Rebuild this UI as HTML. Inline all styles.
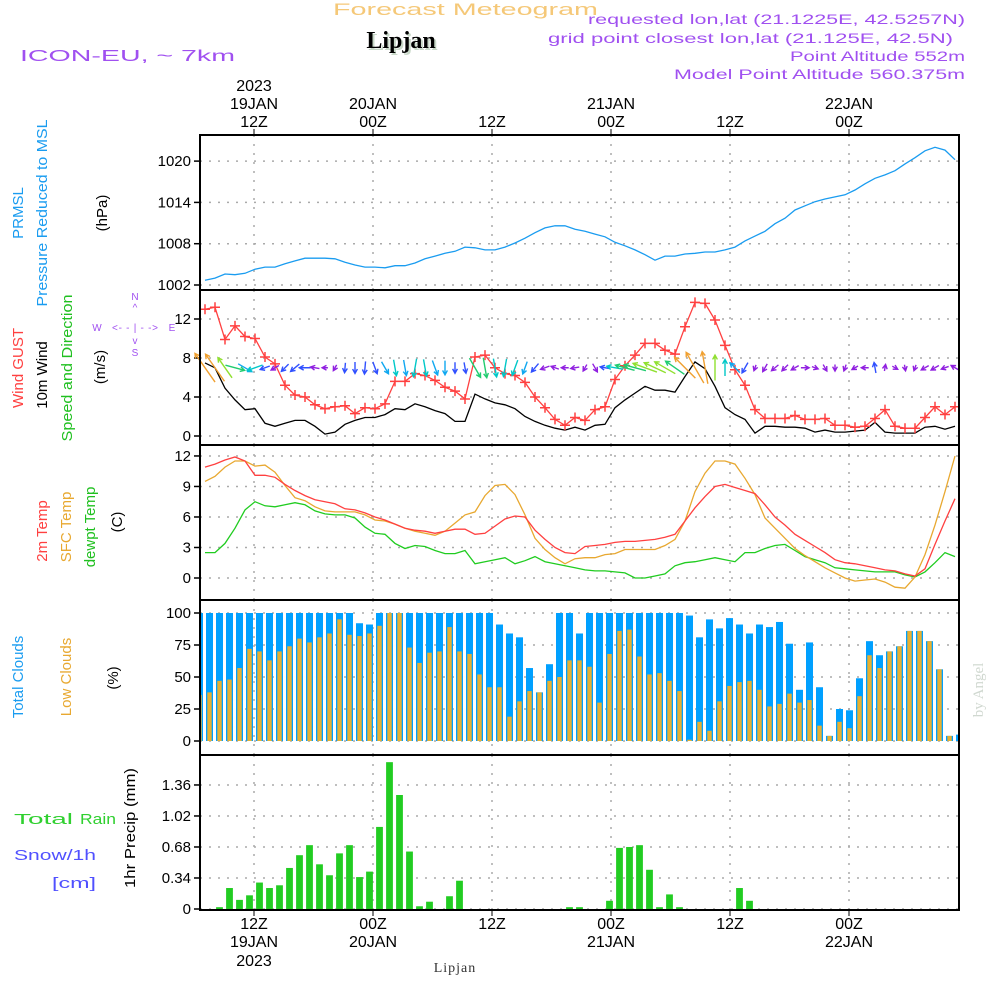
<!DOCTYPE html>
<html><head><meta charset="utf-8"><style>
html,body{margin:0;padding:0;background:#fff;}
svg{display:block;font-family:"Liberation Sans",sans-serif;}
</style></head><body>
<svg id="chart" width="1000" height="1000" viewBox="0 0 1000 1000" xmlns="http://www.w3.org/2000/svg">
<rect x="0" y="0" width="1000" height="1000" fill="#fff"/>
<text x="333" y="15" font-size="17" fill="#f5c878" textLength="265" lengthAdjust="spacingAndGlyphs">Forecast Meteogram</text>
<text x="403" y="50" text-anchor="middle" font-family="Liberation Serif,serif" font-weight="bold" font-size="24" fill="#c8d8c8">Lipjan</text>
<text x="401" y="48" text-anchor="middle" font-family="Liberation Serif,serif" font-weight="bold" font-size="24" fill="#000">Lipjan</text>
<text x="20" y="61" font-size="16" fill="#a050f0" textLength="215" lengthAdjust="spacingAndGlyphs">ICON-EU, ~ 7km</text>
<g font-size="14" fill="#a050f0">
<text x="588" y="24" textLength="377" lengthAdjust="spacingAndGlyphs">requested lon,lat (21.1225E, 42.5257N)</text>
<text x="548" y="43" textLength="405" lengthAdjust="spacingAndGlyphs">grid point closest lon,lat (21.125E, 42.5N)</text>
<text x="790" y="61" textLength="175" lengthAdjust="spacingAndGlyphs">Point Altitude 552m</text>
<text x="674" y="79" textLength="291" lengthAdjust="spacingAndGlyphs">Model Point Altitude 560.375m</text>
</g>
<text transform="translate(983,690) rotate(-90)" text-anchor="middle" font-family="Liberation Serif,serif" font-size="15" fill="#d0d8d0">by Angel</text>

<g font-size="15">
<text transform="translate(23,213) rotate(-90)" text-anchor="middle" fill="#1a9cf0">PRMSL</text>
<text transform="translate(47,213) rotate(-90)" text-anchor="middle" fill="#1a9cf0" textLength="187" lengthAdjust="spacingAndGlyphs">Pressure  Reduced to MSL</text>
<text transform="translate(107,213) rotate(-90)" text-anchor="middle" fill="#000">(hPa)</text>
<text transform="translate(23,368) rotate(-90)" text-anchor="middle" fill="#ff4040">Wind GUST</text>
<text transform="translate(47,375) rotate(-90)" text-anchor="middle" fill="#000">10m Wind</text>
<text transform="translate(72,368) rotate(-90)" text-anchor="middle" fill="#20c020" textLength="147" lengthAdjust="spacingAndGlyphs">Speed and Direction</text>
<text transform="translate(105,367) rotate(-90)" text-anchor="middle" fill="#000">(m/s)</text>
<text transform="translate(47,531) rotate(-90)" text-anchor="middle" fill="#ff4040">2m Temp</text>
<text transform="translate(71,527) rotate(-90)" text-anchor="middle" fill="#e8a830">SFC Temp</text>
<text transform="translate(95,527) rotate(-90)" text-anchor="middle" fill="#20c020">dewpt Temp</text>
<text transform="translate(122,522) rotate(-90)" text-anchor="middle" fill="#000">(C)</text>
<text transform="translate(23,677) rotate(-90)" text-anchor="middle" fill="#1a9cf0">Total Clouds</text>
<text transform="translate(71,677) rotate(-90)" text-anchor="middle" fill="#e8a830">Low Clouds</text>
<text transform="translate(118,678) rotate(-90)" text-anchor="middle" fill="#000">(%)</text>
<text transform="translate(135,828) rotate(-90)" text-anchor="middle" fill="#000" textLength="120" lengthAdjust="spacingAndGlyphs">1hr Precip (mm)</text>
<text x="14" y="824" fill="#30d030" textLength="59" lengthAdjust="spacingAndGlyphs">Total</text>
<text x="80" y="824" fill="#30d030" textLength="36" lengthAdjust="spacingAndGlyphs">Rain</text>
<text x="14" y="860" fill="#5050ff" textLength="82" lengthAdjust="spacingAndGlyphs">Snow/1h</text>
<text x="52" y="888" fill="#5050ff" textLength="44" lengthAdjust="spacingAndGlyphs">[cm]</text>
</g>
<g font-size="10" fill="#a050f0" text-anchor="middle">
<text x="135" y="300">N</text>
<text x="135" y="311">^</text>
<text x="97" y="331">W</text>
<text x="135" y="331" textLength="46" lengthAdjust="spacing">&lt;- - | - -&gt;</text>
<text x="172" y="331">E</text>
<text x="135" y="344">v</text>
<text x="135" y="356">S</text>
</g>
<g id="plot"></g>
</svg>
<script>
// ---------- data ----------
const timeTickIdx = [5.45, 17.35, 29.25, 41.15, 53.05, 64.95];
const timeTickHour = ["12Z","00Z","12Z","00Z","12Z","00Z"];
const timeTickDay = ["19JAN","20JAN","","21JAN","","22JAN"];
const pressTicks = [1002,1008,1014,1020];
const windTicks = [0,4,8,12];
const tempTicks = [0,3,6,9,12];
const cloudTicks = [0,25,50,75,100];
const precipTicks = [0,0.34,0.68,1.02,1.36];
const pressure = [1002.7,1003.0,1003.6,1003.5,1003.7,1004.3,1004.6,1004.6,1005.1,1005.5,1005.9,1005.9,1005.9,1005.8,1005.3,1004.9,1004.6,1004.6,1004.5,1004.8,1004.8,1005.2,1005.8,1006.2,1006.6,1006.9,1007.5,1007.4,1007.1,1007.1,1007.5,1008.1,1008.8,1009.6,1010.3,1010.6,1010.6,1010.1,1009.8,1009.4,1009.0,1008.2,1007.7,1007.1,1006.4,1005.6,1006.2,1006.2,1006.5,1006.6,1006.8,1006.8,1007.1,1007.5,1008.4,1009.1,1009.8,1010.9,1011.7,1012.9,1013.5,1014.1,1014.5,1014.8,1015.1,1015.8,1016.7,1017.5,1018.0,1018.6,1019.6,1020.5,1021.5,1022.0,1021.6,1020.2];
const gust = [13.0,13.2,9.9,11.3,10.2,10.0,8.1,7.4,5.2,4.2,4.0,3.2,2.8,3.0,3.1,2.3,2.9,2.8,3.3,5.6,5.6,6.4,6.2,5.7,5.0,4.6,3.8,8.1,8.3,7.0,6.4,6.2,5.5,4.0,2.9,1.7,1.1,1.9,1.6,2.7,3.0,5.8,7.2,8.3,9.5,9.5,8.8,8.4,11.2,13.7,13.6,11.9,9.3,6.8,5.2,2.7,1.8,1.8,1.8,2.1,1.7,1.7,1.8,1.1,1.1,0.9,1.0,1.8,2.7,1.0,0.8,0.8,1.9,3.0,2.2,3.0];
const windSpeed = [7.5,7.0,4.9,3.7,2.7,2.8,1.3,1.0,1.3,1.6,1.6,1.0,0.2,0.4,1.2,1.6,1.9,1.9,2.2,2.8,2.7,3.3,3.0,2.6,2.3,1.5,1.5,4.3,3.8,3.4,3.2,2.8,2.0,1.5,1.1,0.8,0.6,0.9,0.6,1.1,1.2,2.9,3.7,4.4,5.1,4.7,4.7,4.5,6.1,7.6,6.9,5.1,2.9,2.2,1.7,0.3,1.0,1.0,0.9,0.9,0.8,0.4,0.6,0.4,0.4,0.5,0.6,1.4,0.4,0.3,0.3,0.3,0.9,1.0,0.7,1.0];
const windDir = [145,145,145,285,300,70,70,60,45,50,90,100,90,30,5,0,5,340,330,350,350,10,350,340,0,0,350,330,350,350,10,20,20,40,70,110,90,80,30,330,100,100,105,105,110,115,120,125,135,150,170,180,180,135,30,20,30,50,45,60,270,290,330,0,20,60,90,170,190,300,350,20,60,60,70,120];
const temp2m = [10.9,11.2,11.6,11.9,11.5,10.1,10.1,9.9,9.2,8.6,8.1,7.7,7.5,7.3,6.8,6.7,6.4,6.0,5.7,5.3,4.9,4.7,4.6,4.4,4.6,4.8,4.8,4.3,4.4,5.1,5.8,6.1,6.0,4.7,3.8,3.0,2.5,2.4,3.1,3.2,3.3,3.5,3.6,3.6,3.7,3.8,4.0,4.3,5.6,6.9,8.0,9.0,9.2,8.9,8.6,8.3,7.2,6.0,5.2,4.3,3.7,3.1,2.5,1.8,1.5,1.4,1.2,1.0,0.8,0.7,0.4,0.2,0.9,3.3,5.6,7.8];
const tempSfc = [9.5,10.0,10.9,11.5,11.5,11.0,11.1,10.4,9.1,7.9,7.6,7.0,6.6,6.5,6.5,6.5,6.2,5.7,5.6,5.3,4.9,4.6,4.4,4.2,4.6,5.4,6.2,6.5,8.1,9.1,9.2,8.2,6.2,3.9,2.8,2.0,1.4,1.9,2.0,2.0,2.3,2.4,2.8,2.8,2.8,2.8,3.2,3.8,5.6,8.5,10.3,11.5,11.5,11.2,9.8,8.2,5.9,4.9,3.9,2.9,2.2,1.6,1.0,0.5,0.0,-0.3,-0.2,-0.1,-0.4,-0.9,-1.0,0.1,2.3,5.2,8.5,12.0];
const dewpt = [2.5,2.5,3.4,4.9,6.7,7.5,7.1,7.0,7.2,7.4,7.2,6.6,6.3,6.2,6.2,5.9,5.0,4.4,4.3,3.4,2.9,3.2,3.1,2.7,2.4,2.4,2.7,1.4,1.6,1.8,2.0,1.4,1.7,2.1,1.6,1.4,1.2,1.0,0.8,0.7,0.7,0.6,0.5,0.0,0.0,0.2,0.4,1.2,1.5,1.6,1.8,2.0,1.8,1.6,2.5,2.5,2.9,3.2,3.3,2.7,2.1,1.8,1.5,1.0,0.9,0.8,0.7,0.6,0.6,0.6,0.3,0.1,0.6,1.5,2.5,2.1];
const totalClouds = [100,100,100,100,100,100,100,100,100,100,100,100,100,100,100,100,92,91,100,100,100,100,100,100,100,100,100,100,100,100,91,84,81,57,38,60,100,100,84,100,100,100,100,100,100,100,100,100,100,98,81,95,88,96,91,84,91,89,93,76,40,77,42,4,25,24,49,78,67,70,74,86,86,78,56,4,5];
const lowClouds = [36,38,47,48,57,72,70,63,70,74,80,77,81,84,95,83,82,84,90,100,100,73,61,69,70,89,70,68,52,42,42,19,31,39,38,47,50,63,63,58,30,68,86,87,66,52,53,47,39,1,15,8,31,43,46,47,40,27,29,37,30,32,12,4,15,10,35,67,57,70,74,86,86,78,56,4,0];
const precip = [0,0,0.02,0.23,0.10,0.15,0.29,0.23,0.26,0.45,0.59,0.70,0.49,0.37,0.61,0.70,0.35,0.41,0.90,1.61,1.25,0.63,0.03,0.08,0,0.14,0.31,0,0,0,0,0,0,0,0,0,0,0.02,0.02,0,0,0.09,0.67,0.68,0.70,0.43,0.02,0.16,0.02,0,0,0,0,0,0.23,0.09,0,0,0,0,0,0,0,0,0,0,0,0,0,0,0,0,0,0,0,0,0];

// ---------- scales ----------
const X = t => 199.5 + 10 * t;
const LO = 0.55;
const yP = v => 285 - (v - 1002) * 6.883;
const yW = v => 436 - v * 9.75;
const yT = v => 578 - v * 10.17;
const yC = v => 741 - v * 1.28;
const yR = v => 909 - v * 91.2;
const panels = [{y0:135,y1:290,name:'pressure-panel'},{y0:290,y1:445,name:'wind-panel'},{y0:445,y1:600,name:'temperature-panel'},{y0:600,y1:755,name:'cloud-panel'},{y0:755,y1:910,name:'precip-panel'}];
const PX0 = 200, PX1 = 959;
const NS = 'http://www.w3.org/2000/svg';
const plot = document.getElementById('plot');
function mk(tag, attrs, parent) {
  const e = document.createElementNS(NS, tag);
  for (const k in attrs) e.setAttribute(k, attrs[k]);
  (parent || plot).appendChild(e);
  return e;
}
const defs = mk('defs', {});
panels.forEach((p, i) => {
  const cp = mk('clipPath', {id: 'clip' + i}, defs);
  mk('rect', {x: PX0, y: p.y0, width: PX1 - PX0, height: p.y1 - p.y0}, cp);
});

function hgrid(ticks, yf, fmt) {
  ticks.forEach(v => {
    const y = yf(v);
    const g = mk('line', {x1: PX0, x2: PX1, y1: y, y2: y, stroke: '#aaa', 'stroke-width': 1.5, 'stroke-dasharray': '2,7'});
    
    
    const tk = mk('line', {x1: 194, x2: PX0, y1: y, y2: y, stroke: '#000', 'stroke-width': 1.5});
    
    
    const t = mk('text', {x: 191, y: y + 5, 'text-anchor': 'end', 'font-size': 15, fill: '#000'});
    t.textContent = fmt ? fmt(v) : v;
    
    
  });
}
hgrid(pressTicks, yP);
hgrid(windTicks, yW);
hgrid(tempTicks, yT);
hgrid(cloudTicks, yC);
hgrid(precipTicks, yR, v => v === 0 ? '0' : v.toFixed(2));
timeTickIdx.forEach((ti, j) => {
  const x = X(ti);
  panels.forEach(p => {
    const g = mk('line', {x1: x, x2: x, y1: p.y0, y2: p.y1, stroke: '#aaa', 'stroke-width': 1.5, 'stroke-dasharray': '2,7'});
    
    
  });
  const t1 = mk('line', {x1: x, x2: x, y1: 129, y2: 135, stroke: '#000'});
  
  
  const t2 = mk('line', {x1: x, x2: x, y1: 910, y2: 916, stroke: '#000'});
  
  
  const h1 = mk('text', {x: x, y: 127, 'text-anchor': 'middle', 'font-size': 16, fill: '#000'});
  h1.textContent = timeTickHour[j];
  
  
  const h2 = mk('text', {x: x, y: 929, 'text-anchor': 'middle', 'font-size': 16, fill: '#000'});
  h2.textContent = timeTickHour[j];
  
  
  if (timeTickDay[j]) {
    const d1 = mk('text', {x: x, y: 109, 'text-anchor': 'middle', 'font-size': 16, fill: '#000'});
    d1.textContent = timeTickDay[j];
    
    
    const d2 = mk('text', {x: x, y: 947, 'text-anchor': 'middle', 'font-size': 16, fill: '#000'});
    d2.textContent = timeTickDay[j];
    
    
  }
});
const y1 = mk('text', {x: X(timeTickIdx[0]), y: 91, 'text-anchor': 'middle', 'font-size': 16});
y1.textContent = '2023';


const y2 = mk('text', {x: X(timeTickIdx[0]), y: 966, 'text-anchor': 'middle', 'font-size': 16});
y2.textContent = '2023';


const bl = mk('text', {x: 455, y: 972, 'text-anchor': 'middle', 'font-size': 14, 'font-family': 'Liberation Serif,serif', fill: '#333', 'letter-spacing': 1});
bl.textContent = 'Lipjan';



const cg = mk('g', {'clip-path': 'url(#clip3)'});
totalClouds.forEach((v, i) => {
  const r = mk('rect', {x: X(i) - 3.5, y: yC(v), width: 7, height: yC(0) - yC(v), fill: '#00a0ff'}, cg);
  
  
});
lowClouds.forEach((v, i) => {
  const r = mk('rect', {x: X(i) - 2.2, y: yC(v), width: 4.4, height: yC(0) - yC(v), fill: '#e8b030'}, cg);
  
  
});
const pg = mk('g', {'clip-path': 'url(#clip4)'});
precip.forEach((v, i) => {
  if (v <= 0) return;
  const r = mk('rect', {x: X(i) - 3.4, y: yR(v), width: 6.8, height: yR(0) - yR(v), fill: '#22cc22'}, pg);
  
  
});
function line(arr, yf, color, clip, name, w) {
  const d = arr.map((v, k) => (k ? 'L' : 'M') + X(k + LO).toFixed(1) + ',' + yf(v).toFixed(1)).join('');
  const p = mk('path', {d: d, fill: 'none', stroke: color, 'stroke-width': w || 1.3, 'clip-path': 'url(#clip' + clip + ')'});
  
  
}
line(pressure, yP, '#1a9cf0', 0, 'pressure-line');
line(windSpeed, yW, '#000', 1, 'wind-speed-line');
line(gust, yW, '#ff4040', 1, 'wind-gust-line');
gust.forEach((v, k) => {
  const x = X(k + LO), y = yW(v);
  const m = mk('path', {d: `M${x-5},${y}L${x+5},${y}M${x},${y-5}L${x},${y+5}`, stroke: '#ff4040', 'stroke-width': 1.5});
  
  
});
line(dewpt, yT, '#20cc20', 2, 'dewpoint-line');
line(tempSfc, yT, '#e8a830', 2, 'sfc-temp-line');
line(temp2m, yT, '#ff4040', 2, 'temp-2m-line');
function spdColor(s) {
  if (s < 1.2) return '#9020e0';
  if (s < 2.0) return '#3050ff';
  if (s < 2.8) return '#10a8f0';
  if (s < 3.6) return '#00c8c8';
  if (s < 4.6) return '#20cc70';
  if (s < 5.8) return '#90e030';
  return '#f0a030';
}
windDir.forEach((dir, k) => {
  const s = windSpeed[k];
  const L = 5 + s * 4;
  const a = (270 - dir) * Math.PI / 180;
  const dx = Math.cos(a) * L, dy = -Math.sin(a) * L;
  const cx = X(k + LO), cy = yW(7);
  const x0 = cx - dx / 2, y0 = cy - dy / 2, x1 = cx + dx / 2, y1 = cy + dy / 2;
  const h = 5, ha = 0.5;
  const hx1 = x1 - h * Math.cos(a - ha), hy1 = y1 + h * Math.sin(a - ha);
  const hx2 = x1 - h * Math.cos(a + ha), hy2 = y1 + h * Math.sin(a + ha);
  const p = mk('path', {d: `M${x0},${y0}L${x1},${y1}M${hx1},${hy1}L${x1},${y1}L${hx2},${hy2}`, stroke: spdColor(s), 'stroke-width': 1.4, fill: 'none'});
  
  
});
panels.forEach(p => {
  const r = mk('rect', {x: PX0, y: p.y0, width: PX1 - PX0, height: p.y1 - p.y0, fill: 'none', stroke: '#000', 'stroke-width': 2});
  
  
});
</script>
</body></html>
